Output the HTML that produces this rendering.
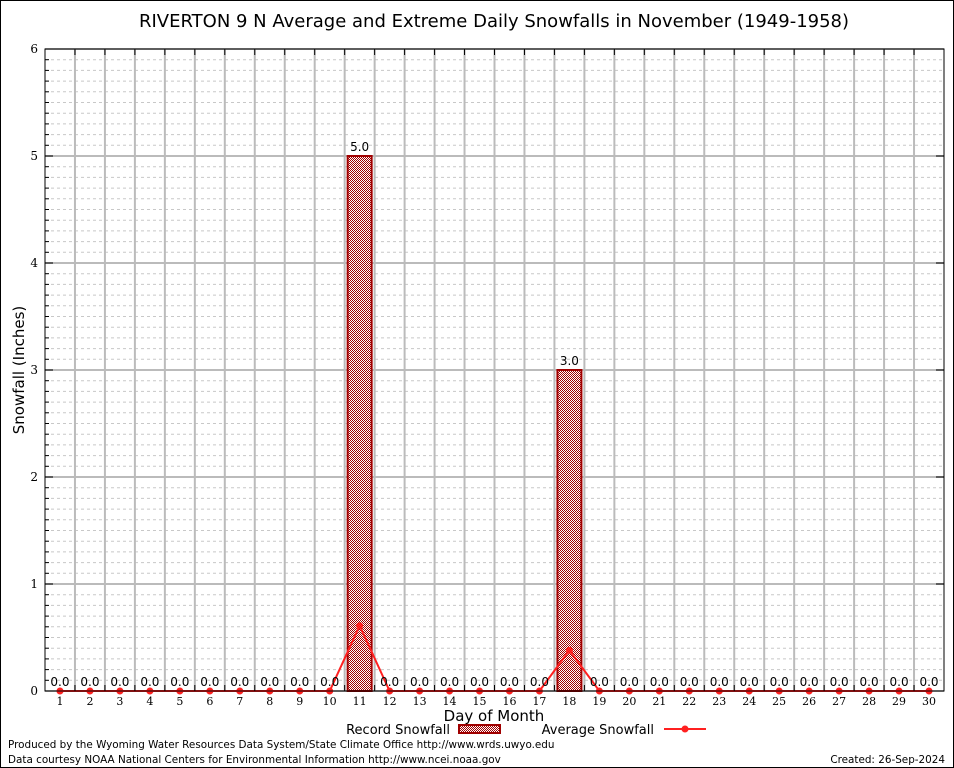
<!DOCTYPE html>
<html><head><meta charset="utf-8"><style>body{margin:0;background:#fff}svg{display:block;font-family:"DejaVu Sans","Liberation Sans",sans-serif}</style></head>
<body>
<svg id="c" width="954" height="768">
<defs><pattern id="hatch" width="2" height="2" patternUnits="userSpaceOnUse"><rect width="2" height="2" fill="#fff"/><rect width="1" height="1" fill="#a00000"/><rect x="1" y="1" width="1" height="1" fill="#a00000"/></pattern></defs>
<rect x="0.5" y="0.5" width="953" height="767" fill="#fff" stroke="#000"/>
<text x="494" y="27" font-size="18" text-anchor="middle">RIVERTON 9 N Average and Extreme Daily Snowfalls in November (1949-1958)</text>
<g id="grid"></g><g id="bars"></g><g id="avg"></g><g id="ax"></g>
<text transform="translate(24,370) rotate(-90)" font-size="15" text-anchor="middle">Snowfall (Inches)</text>
<text x="494" y="721" font-size="15" text-anchor="middle">Day of Month</text>
<g font-size="13">
<text x="450" y="734" text-anchor="end">Record Snowfall</text>
<rect x="459" y="725" width="41" height="8" fill="url(#hatch)" stroke="#a00000" stroke-width="2"/>
<text x="654" y="734" text-anchor="end">Average Snowfall</text>
<line x1="664" y1="729" x2="706" y2="729" stroke="#ff2020" stroke-width="2"/>
<circle cx="685" cy="729" r="3.5" fill="#ff2020"/>
</g>
<text x="8" y="748" font-size="10.4">Produced by the Wyoming Water Resources Data System/State Climate Office http://www.wrds.uwyo.edu</text>
<text x="8" y="763" font-size="10.4">Data courtesy NOAA National Centers for Environmental Information http://www.ncei.noaa.gov</text>
<text x="945" y="763" font-size="10.4" text-anchor="end">Created: 26-Sep-2024</text>
</svg>
<script>
const days=[1,2,3,4,5,6,7,8,9,10,11,12,13,14,15,16,17,18,19,20,21,22,23,24,25,26,27,28,29,30];
const recordVals=[0,0,0,0,0,0,0,0,0,0,5,0,0,0,0,0,0,3,0,0,0,0,0,0,0,0,0,0,0,0];
const avgVals=[0,0,0,0,0,0,0,0,0,0,0.61,0,0,0,0,0,0,0.38,0,0,0,0,0,0,0,0,0,0,0,0];
const yTicks=[0,1,2,3,4,5,6];
const L=45,R=944,T=49,B=691,yMax=6;
const step=(R-L)/days.length;
const x=d=>L+(d-0.5)*step;
const y=v=>B-v/yMax*(B-T);
const NS='http://www.w3.org/2000/svg';
function mk(p,t,a){const e=document.createElementNS(NS,t);for(const k in a)e.setAttribute(k,a[k]);document.getElementById(p).appendChild(e);return e;}
for(let v=0.1;v<yMax;v+=0.1){const r=Math.round(v*10);if(r%10===0)continue;
const e=mk('grid','line',{x1:L,x2:R,y1:y(v),y2:y(v),stroke:'#c8c8c8','stroke-dasharray':'3,3'});


const t1=mk('grid','line',{x1:L,x2:L+4,y1:y(v),y2:y(v),stroke:'#000'});

}
yTicks.forEach(v=>{const e=mk('grid','line',{x1:L,x2:R,y1:y(v),y2:y(v),stroke:'#bbb','stroke-width':2});


const t=mk('ax','text',{x:L-7,y:y(v)+4,'font-size':12,'text-anchor':'end','font-family':'DejaVu Serif,serif'});t.textContent=v;


const tk=mk('ax','line',{x1:L,x2:L+8,y1:y(v),y2:y(v),stroke:'#000'});


const tk2=mk('ax','line',{x1:R-8,x2:R,y1:y(v),y2:y(v),stroke:'#000'});

});
for(let i=1;i<days.length;i++){const gx=L+i*step;
const e=mk('grid','line',{x1:gx,x2:gx,y1:T,y2:B,stroke:'#bbb','stroke-width':2});


const a=mk('ax','line',{x1:gx,x2:gx,y1:T,y2:T+6,stroke:'#000'});


const b=mk('ax','line',{x1:gx,x2:gx,y1:B-6,y2:B,stroke:'#000'});

}
days.forEach((d,i)=>{const v=recordVals[i];
if(v>0){const r=mk('bars','rect',{x:x(d)-12,y:y(v),width:24,height:B-y(v),fill:'url(#hatch)',stroke:'#a00000','stroke-width':2});

}
const t=mk('ax','text',{x:x(d),y:y(v)-5,'font-size':12,'text-anchor':'middle'});t.textContent=v.toFixed(1);


const xl=mk('ax','text',{x:x(d),y:B+14,'font-size':11,'text-anchor':'middle','font-family':'DejaVu Serif,serif'});xl.textContent=d;

});
const pl=mk('avg','polyline',{points:days.map((d,i)=>x(d)+','+y(avgVals[i])).join(' '),fill:'none',stroke:'#ff2020','stroke-width':2});


days.forEach((d,i)=>{const c=mk('avg','circle',{cx:x(d),cy:y(avgVals[i]),r:3.5,fill:'#ff2020'});

});
const bd=mk('ax','rect',{x:L,y:T,width:R-L,height:B-T,fill:'none',stroke:'#000'});


</script>
</body></html>
